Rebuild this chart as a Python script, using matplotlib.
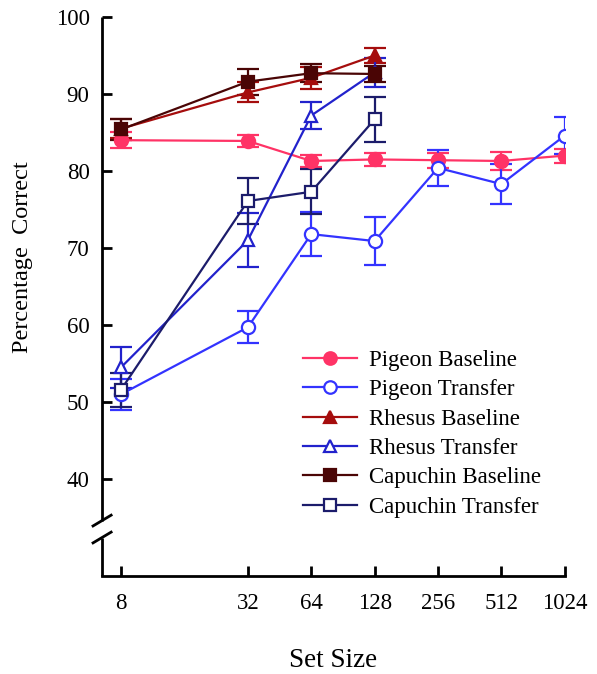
import matplotlib
matplotlib.use('Agg')
import matplotlib.pyplot as plt
from matplotlib.lines import Line2D

plt.rcParams['font.family'] = ['Liberation Serif', 'DejaVu Serif']

# Datos
set_sizes = [8, 32, 64, 128, 256, 512, 1024]
monkey_sizes = [8, 32, 64, 128]

pigeon_base = [84.0, 83.9, 81.3, 81.5, 81.4, 81.3, 82.0]
pigeon_base_err = [1.0, 0.8, 0.8, 0.8, 1.0, 1.2, 0.9]
pigeon_trans = [51.0, 59.7, 71.8, 70.9, 80.4, 78.3, 84.6]
pigeon_trans_err = [2.0, 2.1, 2.9, 3.1, 2.3, 2.6, 2.4]

rhesus_base = [85.5, 90.2, 92.1, 95.0]
rhesus_base_err = [1.2, 1.3, 1.4, 1.0]
rhesus_trans = [54.5, 71.0, 87.2, 92.8]
rhesus_trans_err = [2.7, 3.5, 1.7, 1.9]

capuchin_base = [85.4, 91.6, 92.7, 92.6]
capuchin_base_err = [1.4, 1.7, 1.2, 1.0]
capuchin_trans = [51.6, 76.1, 77.3, 86.7]
capuchin_trans_err = [2.2, 3.0, 2.9, 2.9]

tick_labels = ['8', '32', '64', '128', '256', '512', '1024']

fig = plt.figure(figsize=(5.97, 6.74), dpi=100)
ax = fig.add_axes([0.171, 0.1454, 0.775, 0.8294])

series = [
    (set_sizes, pigeon_base, pigeon_base_err, 'Pigeon Baseline', '#ff3366', 'o', True),
    (set_sizes, pigeon_trans, pigeon_trans_err, 'Pigeon Transfer', '#3333ff', 'o', False),
    (monkey_sizes, rhesus_base, rhesus_base_err, 'Rhesus Baseline', '#a50d0d', '^', True),
    (monkey_sizes, rhesus_trans, rhesus_trans_err, 'Rhesus Transfer', '#2222cc', '^', False),
    (monkey_sizes, capuchin_base, capuchin_base_err, 'Capuchin Baseline', '#4a0505', 's', True),
    (monkey_sizes, capuchin_trans, capuchin_trans_err, 'Capuchin Transfer', '#1c1c6b', 's', False),
]

handles = []
for x, y, e, lab, col, mk, filled in series:
    ms = 9.5 if mk == 'o' else (9 if mk == '^' else 8.5)
    fc = col if filled else 'white'
    ax.errorbar(x, y, yerr=e, color=col, marker=mk, markersize=ms,
                markerfacecolor=fc, markeredgecolor=col, markeredgewidth=1.6,
                linewidth=1.6, elinewidth=1.6, capsize=8, capthick=1.6)
    handles.append(Line2D([], [], color=col, marker=mk, markersize=ms - 0.5,
                          markerfacecolor=fc, markeredgecolor=col,
                          markeredgewidth=1.6, linewidth=1.6, label=lab))

ax.set_xscale('log', base=2)
ax.set_xlim(6.5, 1024)
ax.set_ylim(27.4, 100)
ax.set_xticks(set_sizes)
ax.set_xticklabels(tick_labels)
ax.minorticks_off()
ax.set_yticks([40, 50, 60, 70, 80, 90, 100])

for s in ['top', 'right', 'left']:
    ax.spines[s].set_visible(False)
ax.spines['bottom'].set_linewidth(2)

# eje y con corte
xl = ax.get_xlim()[0]
ax.plot([xl, xl], [34.6, 100], color='black', lw=2, clip_on=False, solid_capstyle='butt')
ax.plot([xl, xl], [27.4, 32.4], color='black', lw=2, clip_on=False, solid_capstyle='butt')
for yc in [34.6, 32.4]:
    ax.plot([xl / 1.104, xl * 1.104], [yc - 0.7, yc + 0.7], color='black', lw=2, clip_on=False)

ax.tick_params(axis='both', direction='in', length=7, width=2, labelsize=16.5)
ax.tick_params(axis='y', pad=9)
ax.tick_params(axis='x', pad=12)

ax.set_ylabel('Percentage  Correct', fontsize=17.5)
ax.yaxis.set_label_coords(-0.149, 0.57)
ax.set_xlabel('Set Size', fontsize=19.5)
ax.xaxis.set_label_coords(0.5, -0.128)

ax.legend(handles=handles, loc='upper left', bbox_to_anchor=(0.434, 0.404),
          frameon=False, fontsize=16.5, handlelength=2.35, handletextpad=0.52,
          labelspacing=0.36, borderpad=0, borderaxespad=0)

fig.savefig('out.png', dpi=100)
